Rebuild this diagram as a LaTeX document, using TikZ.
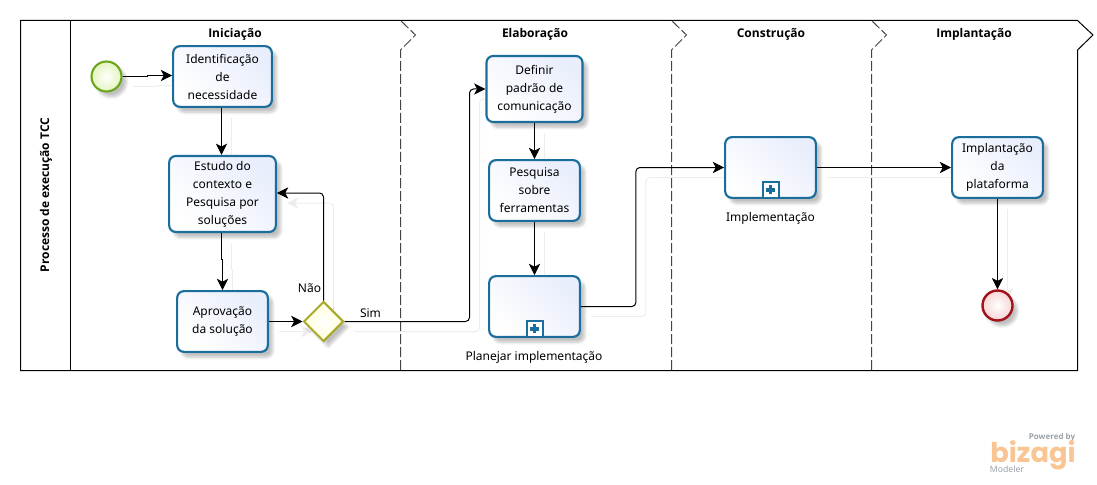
\documentclass[tikz,border=0pt]{standalone}
\usepackage{fontspec}
\setmainfont{Noto Sans}
\newfontfamily\logofont{Poppins}
\newfontfamily\titlefont{Open Sans}
\usetikzlibrary{arrows.meta,shadows,shadows.blur,positioning,shapes.geometric,backgrounds}
\definecolor{taskblue}{HTML}{1B6E9C}
\definecolor{taskfill}{HTML}{E9EEFC}
\definecolor{startgreen}{HTML}{6DA71E}
\definecolor{startfill}{HTML}{E4F4BE}
\definecolor{endred}{HTML}{A1131A}
\definecolor{endfill}{HTML}{F8D5D5}
\definecolor{gatewayline}{HTML}{A9A829}
\definecolor{gatewayfill}{HTML}{FFFFD9}
\definecolor{phasegray}{HTML}{444444}
\definecolor{ghostgray}{HTML}{EDEDED}
\definecolor{logoorange}{HTML}{F9C592}
\definecolor{logogray}{HTML}{98A1AA}
\tikzset{
  basetext/.style={font=\fontsize{9}{13.5}\selectfont},
  softshadow/.style={blur shadow={shadow xshift=3.5pt,shadow yshift=-4pt,shadow blur steps=6,shadow opacity=25}},
  taskbox/.style={basetext,draw=taskblue,line width=1.6pt,rounded corners=5pt,align=center,inner sep=0pt,
    left color=white,right color=taskfill,shading angle=135,softshadow,minimum width=68pt,minimum height=45.5pt},
  plusmark/.style={draw=taskblue,line width=1.5pt,fill=white,inner sep=0pt,minimum size=12pt,
    path picture={\draw[taskblue,line width=2.4pt]
      ([xshift=-3.4pt]path picture bounding box.center) -- ([xshift=3.4pt]path picture bounding box.center)
      ([yshift=-3.4pt]path picture bounding box.center) -- ([yshift=3.4pt]path picture bounding box.center);}},
  startevent/.style={circle,draw=startgreen,line width=1.6pt,inner sep=0pt,minimum size=22.5pt,
    inner color=white,outer color=startfill,softshadow},
  endevent/.style={circle,draw=endred,line width=1.8pt,inner sep=0pt,minimum size=22.5pt,
    inner color=white,outer color=endfill,softshadow},
  gatewaybox/.style={diamond,draw=gatewayline,line width=1.5pt,inner sep=0pt,minimum size=30pt,
    inner color=white,outer color=gatewayfill,softshadow},
  flowtip/.style={-{Stealth[length=8.5pt,width=8.5pt,inset=2.2pt]}},
  flow/.style={draw=black,line width=.75pt,flowtip},
  ghostflow/.style={draw=ghostgray,line width=.75pt,flowtip,transform canvas={xshift=7.5pt,yshift=-7.5pt}},
  plaintext/.style={basetext,inner sep=0pt},
  phasetitle/.style={font=\titlefont\fontsize{9}{13.5}\selectfont\bfseries,inner sep=0pt},
  phaseline/.style={draw=phasegray,line width=.75pt,dash pattern=on 7.5pt off 2.25pt},
}
% All sequence flows, drawn once as the faint copy and once on top
\newcommand{\drawflows}[1]{
    \draw[#1] (start.east) -- ++(25,0) |- ([yshift=.75pt]ident.west);
    \draw[#1] ([xshift=-.75pt]ident.south) -- ([xshift=-.75pt]estudo.north);
    \draw[#1] ([xshift=-.75pt]estudo.south) -- ++(0,26) -| (aprov.north);
    \draw[#1] (aprov) -- (gate);
    \draw[#1,rounded corners=3pt] (gate.north) |- ([yshift=.75pt]estudo.east);
    \draw[#1,rounded corners=3pt] (gate.east) -- ++(125,0) |- (definir.west);
    \draw[#1] (definir) -- (pesquisa);
    \draw[#1] (pesquisa) -- (planejar);
    \draw[#1,rounded corners=3pt] (planejar.east) -- ++(55,0) |- (implem.west);
    \draw[#1] (implem) -- (implant);
    \draw[#1] (implant) -- (finish);
}
\begin{document}
\begin{tikzpicture}[x=.75pt,y=-.75pt]
    \useasboundingbox (0,0) rectangle (1097,485);
    % Pool
    \draw[line width=.75pt] (1077.5,370.5) -- (20.5,370.5) -- (20.5,20.5) -- (1077.5,20.5) -- (1093,35) -- (1077.5,50) -- cycle;
    \draw[line width=.75pt] (70.5,20.5) -- (70.5,370.5);
    \node[phasetitle,rotate=90] (pooltitle) at (46,195) {Processo de execução TCC};
    % Phases
    \foreach \px in {400.5,671.5,871.5}{
        \draw[phaseline] (\px,370) -- (\px,50) -- (\px+15,35) -- (\px,20.5);
    }
    \node[phasetitle] (iniciacao) at (235,34) {Iniciação};
    \node[phasetitle] (elaboracao) at (535,34) {Elaboração};
    \node[phasetitle] (construcao) at (771,34) {Construção};
    \node[phasetitle] (implantacao) at (974,34) {Implantação};
    % Tasks
    \node[startevent] (start) at (106.5,76.5) {};
    \node[taskbox,minimum width=74pt] (ident) at (222.5,76.5) {Identificação\\de\\necessidade};
    \node[taskbox,minimum width=80pt,minimum height=57pt] (estudo) at (222.5,194) {Estudo do\\contexto e\\Pesquisa por\\soluções};
    \node[taskbox] (aprov) at (222.5,321.5) {Aprovação\\da solução};
    \node[gatewaybox] (gate) at (323.5,321.5) {};
    \node[taskbox,minimum width=72pt,minimum height=49.5pt] (definir) at (534.5,89) {Definir\\padrão de\\comunicação};
    \node[taskbox] (pesquisa) at (534.5,190.5) {Pesquisa\\sobre\\ferramentas};
    \node[taskbox] (planejar) at (534.5,306.5) {};
    \node[taskbox] (implem) at (770.5,167.5) {};
    \node[taskbox] (implant) at (997.5,167.5) {Implantação\\da\\plataforma};
    \node[endevent] (finish) at (997.5,305.5) {};
    % Markers
    \node[plusmark,above=0pt of planejar.south] (plusplan) {};
    \node[plusmark,above=0pt of implem.south] (plusimpl) {};
    % Labels
    \node[plaintext] (labelplan) at (534,357) {Planejar implementação};
    \node[plaintext] (labelimpl) at (770.5,218) {Implementação};
    \node[plaintext] (labelnao) at (309.5,288) {Não};
    \node[plaintext] (labelsim) at (370.5,313.5) {Sim};
    % Flows
    \begin{scope}[on background layer]
        \drawflows{ghostflow}
    \end{scope}
    \drawflows{flow}
    % Logo
    \node[inner sep=0pt,text=logogray,font=\titlefont\fontsize{6}{7}\selectfont\bfseries] (powered) at (1052,437) {Powered by};
    \node[inner sep=0pt,anchor=base,text=logoorange,font=\logofont\fontsize{20.5}{22}\selectfont\bfseries] (bizagi) at (1033,462) {bizagi};
    \node[inner sep=0pt,text=logogray,font=\fontsize{6.5}{7}\selectfont] (modeler) at (1007,469) {Modeler};
\end{tikzpicture}
\end{document}
